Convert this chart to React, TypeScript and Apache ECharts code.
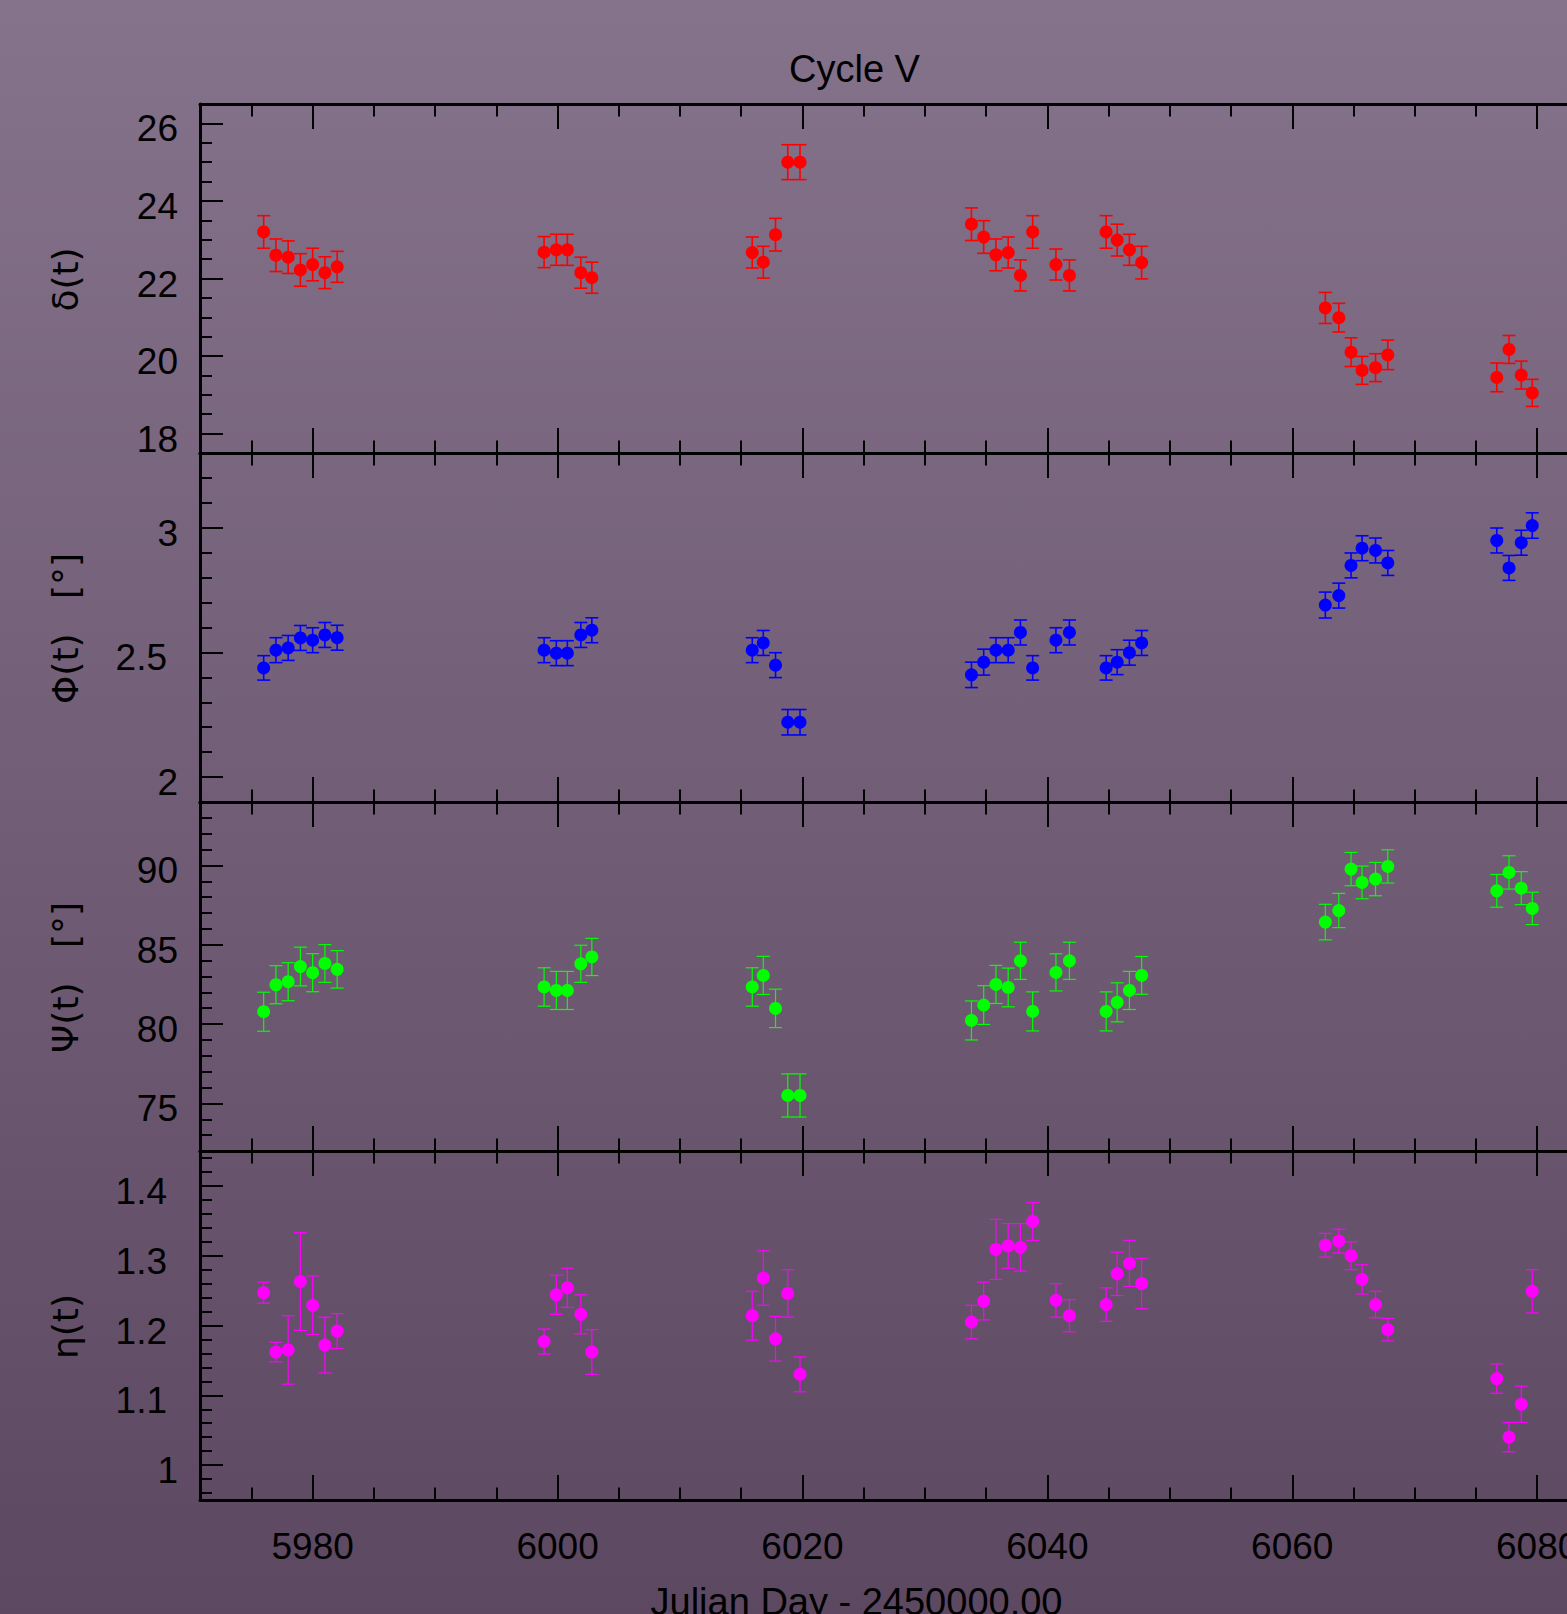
import React, { useEffect, useRef } from "react";
import * as echarts from "echarts";

// Julian Day - 2450000.00
const days = [
  5976.0, 5977.0, 5978.0, 5979.0, 5980.0, 5981.0, 5982.0,
  5998.9, 5999.9, 6000.8, 6001.9, 6002.8,
  6015.9, 6016.8, 6017.8, 6018.8, 6019.8,
  6033.8, 6034.8, 6035.8, 6036.8, 6037.8, 6038.8, 6040.7, 6041.8,
  6044.8, 6045.7, 6046.7, 6047.7,
  6062.7, 6063.8, 6064.8, 6065.7, 6066.8, 6067.8,
  6076.7, 6077.7, 6078.7, 6079.6,
];

const deltaVals = [
  23.2, 22.6, 22.55, 22.22, 22.36, 22.15, 22.3,
  22.68, 22.74, 22.74, 22.15, 22.02,
  22.67, 22.42, 23.13, 25.0, 25.0,
  23.4, 23.07, 22.61, 22.67, 22.08, 23.2, 22.36, 22.08,
  23.2, 22.99, 22.74, 22.41,
  21.24, 20.99, 20.1, 19.63, 19.7, 20.03,
  19.45, 20.17, 19.51, 19.05,
];
const deltaErr = [
  0.42, 0.42, 0.42, 0.42, 0.42, 0.41, 0.4,
  0.4, 0.4, 0.4, 0.4, 0.4,
  0.4, 0.41, 0.42, 0.45, 0.45,
  0.42, 0.42, 0.41, 0.4, 0.4, 0.42, 0.4, 0.4,
  0.42, 0.41, 0.4, 0.42,
  0.4, 0.37, 0.37, 0.36, 0.36, 0.38,
  0.37, 0.36, 0.36, 0.35,
];

const phiVals = [
  2.438, 2.509, 2.518, 2.558, 2.549, 2.57, 2.559,
  2.509, 2.497, 2.497, 2.57, 2.589,
  2.509, 2.538, 2.449, 2.22, 2.22,
  2.41, 2.461, 2.509, 2.509, 2.58, 2.438, 2.549, 2.58,
  2.438, 2.461, 2.499, 2.538,
  2.69, 2.728, 2.849, 2.918, 2.909, 2.859,
  2.949, 2.839, 2.94, 3.009,
];
const phiErr = [
  0.049, 0.05, 0.05, 0.05, 0.05, 0.05, 0.05,
  0.05, 0.05, 0.05, 0.05, 0.05,
  0.05, 0.05, 0.05, 0.051, 0.051,
  0.051, 0.052, 0.05, 0.05, 0.05, 0.049, 0.05, 0.05,
  0.049, 0.05, 0.05, 0.05,
  0.052, 0.05, 0.05, 0.05, 0.05, 0.05,
  0.05, 0.05, 0.05, 0.051,
];

const psiVals = [
  80.78, 82.48, 82.67, 83.63, 83.24, 83.82, 83.45,
  82.34, 82.12, 82.12, 83.8, 84.23,
  82.34, 83.07, 80.99, 75.5, 75.5,
  80.23, 81.2, 82.5, 82.31, 83.99, 80.8, 83.26, 83.99,
  80.8, 81.37, 82.12, 83.07,
  86.43, 87.16, 89.77, 88.93, 89.14, 89.94,
  88.4, 89.56, 88.57, 87.29,
];
const psiErr = [
  1.23, 1.2, 1.2, 1.22, 1.2, 1.19, 1.18,
  1.21, 1.2, 1.2, 1.17, 1.17,
  1.21, 1.2, 1.21, 1.36, 1.36,
  1.23, 1.22, 1.2, 1.22, 1.17, 1.23, 1.17, 1.17,
  1.23, 1.23, 1.2, 1.19,
  1.12, 1.08, 1.05, 1.03, 1.05, 1.05,
  1.03, 1.05, 1.04, 1.02,
];

const etaVals = [
  1.247, 1.162, 1.165, 1.263, 1.229, 1.172, 1.192,
  1.177, 1.244, 1.254, 1.216, 1.162,
  1.214, 1.268, 1.181, 1.246, 1.13,
  1.205, 1.235, 1.309, 1.314, 1.312, 1.349, 1.236, 1.214,
  1.23, 1.274, 1.289, 1.26,
  1.315, 1.321, 1.3, 1.266, 1.23, 1.194,
  1.124, 1.04, 1.087, 1.249,
];
const etaErr = [
  0.015, 0.014, 0.049, 0.07, 0.042, 0.04, 0.025,
  0.018, 0.028, 0.028, 0.028, 0.032,
  0.035, 0.039, 0.032, 0.034, 0.025,
  0.024, 0.027, 0.043, 0.032, 0.034, 0.027, 0.024, 0.023,
  0.024, 0.031, 0.033, 0.036,
  0.017, 0.017, 0.02, 0.021, 0.019, 0.016,
  0.021, 0.021, 0.026, 0.031,
];

// tick values
const xMajorTicks = [5980, 6000, 6020, 6040, 6060, 6080];
const xMinorTicks = [5975, 5985, 5990, 5995, 6005, 6010, 6015, 6025, 6030, 6035, 6045, 6050, 6055, 6065, 6070, 6075];

const deltaMajor = [18, 20, 22, 24, 26];
const deltaMinor = [18.5, 19, 19.5, 20.5, 21, 21.5, 22.5, 23, 23.5, 24.5, 25, 25.5];
const phiMajor = [2, 2.5, 3];
const phiMinor = [2.1, 2.2, 2.3, 2.4, 2.6, 2.7, 2.8, 2.9, 3.1, 3.2];
const psiMajor = [75, 80, 85, 90];
const psiMinor = [73, 74, 76, 77, 78, 79, 81, 82, 83, 84, 86, 87, 88, 89, 91, 92, 93];
const etaMajor = [1, 1.1, 1.2, 1.3, 1.4];
const etaMinor = [0.96, 0.98, 1.02, 1.04, 1.06, 1.08, 1.12, 1.14, 1.16, 1.18, 1.22, 1.24, 1.26, 1.28, 1.32, 1.34, 1.36, 1.38, 1.42, 1.44];

const titleText = "Cycle V";
const xTitle = "Julian Day - 2450000.00";

const X_MIN = 5970.8;
const X_MAX = 6084.6;

const CHART_W = 1700;
const CHART_H = 1614;
const GRID_LEFT = 200;
const GRID_W = 1393.5;
const PANEL_TOPS = [104, 453, 802, 1151];
const PANEL_H = 349;

export default function App() {
  const ref = useRef<HTMLDivElement>(null);

  useEffect(() => {
    if (!ref.current) return;
    const chart = echarts.init(ref.current, null, {
      renderer: "svg",
      width: CHART_W,
      height: CHART_H,
    });

    const panels = [
      { name: "δ(t)", vals: deltaVals, errs: deltaErr, color: "#ff0000", min: 17.5, max: 26.5, major: deltaMajor, minor: deltaMinor, bw: 1.6 },
      { name: "Φ(t)   [°]", vals: phiVals, errs: phiErr, color: "#0000ff", min: 1.9, max: 3.3, major: phiMajor, minor: phiMinor, bw: 1.6 },
      { name: "Ψ(t)   [°]", vals: psiVals, errs: psiErr, color: "#00ff00", min: 72, max: 94, major: psiMajor, minor: psiMinor, bw: 1.2 },
      { name: "η(t)", vals: etaVals, errs: etaErr, color: "#ff00ff", min: 0.95, max: 1.45, major: etaMajor, minor: etaMinor, bw: 1.2 },
    ];

    const labelFont = "'Liberation Sans', Arial, Helvetica, sans-serif";
    const grids: any[] = [];
    const xAxes: any[] = [];
    const yAxes: any[] = [];
    const series: any[] = [];
    const graphics: any[] = [];

    const yLabelStyle = {
      formatter: (v: number) => String(v),
      fontSize: 37,
      fontFamily: labelFont,
      color: "#000",
      verticalAlign: "top",
      lineHeight: 11,
    };

    panels.forEach((p, k) => {
      grids.push({
        left: GRID_LEFT,
        top: PANEL_TOPS[k],
        width: GRID_W,
        height: PANEL_H,
        containLabel: false,
      });
      const isBottom = k === panels.length - 1;
      const mkX = (position: string, major: boolean, showLine: boolean, showLabel: boolean) => ({
        type: "value",
        gridIndex: k,
        position,
        min: X_MIN,
        max: X_MAX,
        axisLine: { show: showLine, onZero: false, lineStyle: { color: "#000", width: 3 } },
        axisTick: {
          show: true,
          inside: true,
          length: major ? 25 : 12.5,
          lineStyle: { color: "#000", width: 2 },
          customValues: major ? xMajorTicks : xMinorTicks,
        },
        axisLabel: {
          show: showLabel,
          customValues: xMajorTicks,
          formatter: (v: number) => String(v),
          fontSize: 37,
          fontFamily: labelFont,
          color: "#000",
          margin: 28,
        },
        splitLine: { show: false },
      });
      xAxes.push(mkX("bottom", true, true, isBottom));
      xAxes.push(mkX("bottom", false, false, false));
      xAxes.push(mkX("top", true, true, false));
      xAxes.push(mkX("top", false, false, false));

      const intLabels = p.major.filter((v) => Number.isInteger(v));
      const decLabels = p.major.filter((v) => !Number.isInteger(v));

      // frame line, major ticks, integer labels
      yAxes.push({
        type: "value",
        gridIndex: k,
        position: "left",
        min: p.min,
        max: p.max,
        axisLine: { show: true, onZero: false, lineStyle: { color: "#000", width: 3 } },
        axisTick: {
          show: true,
          inside: true,
          length: 23,
          lineStyle: { color: "#000", width: 2 },
          customValues: p.major,
        },
        axisLabel: { show: intLabels.length > 0, customValues: intLabels, margin: 22, ...yLabelStyle },
        splitLine: { show: false },
      });
      // minor ticks
      yAxes.push({
        type: "value",
        gridIndex: k,
        position: "left",
        min: p.min,
        max: p.max,
        axisLine: { show: false, onZero: false },
        axisTick: {
          show: true,
          inside: true,
          length: 12,
          lineStyle: { color: "#000", width: 2 },
          customValues: p.minor,
        },
        axisLabel: { show: false },
        splitLine: { show: false },
      });
      // decimal labels (set a little further out, as in the reference)
      yAxes.push({
        type: "value",
        gridIndex: k,
        position: "left",
        min: p.min,
        max: p.max,
        axisLine: { show: false, onZero: false },
        axisTick: { show: false },
        axisLabel: { show: decLabels.length > 0, customValues: decLabels, margin: 33, ...yLabelStyle },
        splitLine: { show: false },
      });

      const data = days.map((d, i) => [d, p.vals[i], p.errs[i]]);
      const color = p.color;
      const bw = p.bw;
      series.push({
        type: "custom",
        xAxisIndex: 4 * k,
        yAxisIndex: 3 * k,
        data,
        encode: { x: 0, y: 1 },
        z: 2,
        renderItem: (params: any, api: any) => {
          const x = api.value(0);
          const y = api.value(1);
          const e = api.value(2);
          const hi = api.coord([x, y + e]);
          const lo = api.coord([x, y - e]);
          const cap = 6.5;
          const style = { stroke: color, lineWidth: bw, fill: "none" };
          return {
            type: "group",
            children: [
              { type: "line", shape: { x1: hi[0], y1: hi[1], x2: lo[0], y2: lo[1] }, style },
              { type: "line", shape: { x1: hi[0] - cap, y1: hi[1], x2: hi[0] + cap, y2: hi[1] }, style },
              { type: "line", shape: { x1: lo[0] - cap, y1: lo[1], x2: lo[0] + cap, y2: lo[1] }, style },
            ],
          };
        },
      });
      series.push({
        type: "scatter",
        xAxisIndex: 4 * k,
        yAxisIndex: 3 * k,
        data: days.map((d, i) => [d, p.vals[i]]),
        symbol: "circle",
        symbolSize: 13,
        itemStyle: { color, opacity: 1 },
        z: 3,
      });

      graphics.push({
        type: "text",
        x: 65,
        y: PANEL_TOPS[k] + PANEL_H / 2 + 1,
        rotation: Math.PI / 2,
        style: {
          text: p.name,
          fontSize: 36,
          fontFamily: "'DejaVu Sans', sans-serif",
          fill: "#000",
          textAlign: "center",
          textVerticalAlign: "middle",
        },
      });
    });

    graphics.push({
      type: "text",
      x: 854.5,
      y: 69,
      style: {
        text: titleText,
        fontSize: 38,
        fontFamily: labelFont,
        fill: "#000",
        textAlign: "center",
        textVerticalAlign: "middle",
      },
    });
    graphics.push({
      type: "text",
      x: 856.5,
      y: 1601.5,
      style: {
        text: xTitle,
        fontSize: 38,
        fontFamily: labelFont,
        fill: "#000",
        textAlign: "center",
        textVerticalAlign: "middle",
      },
    });

    chart.setOption({
      animation: false,
      backgroundColor: "transparent",
      grid: grids,
      xAxis: xAxes,
      yAxis: yAxes,
      series,
      graphic: graphics,
    });

    return () => chart.dispose();
  }, []);

  return (
    <div
      style={{
        position: "fixed",
        left: 0,
        top: 0,
        width: 1567,
        height: 1614,
        overflow: "hidden",
        background: "linear-gradient(to bottom, #85728b 0%, #5d4861 100%)",
      }}
    >
      <div ref={ref} style={{ width: CHART_W, height: CHART_H }} />
    </div>
  );
}
